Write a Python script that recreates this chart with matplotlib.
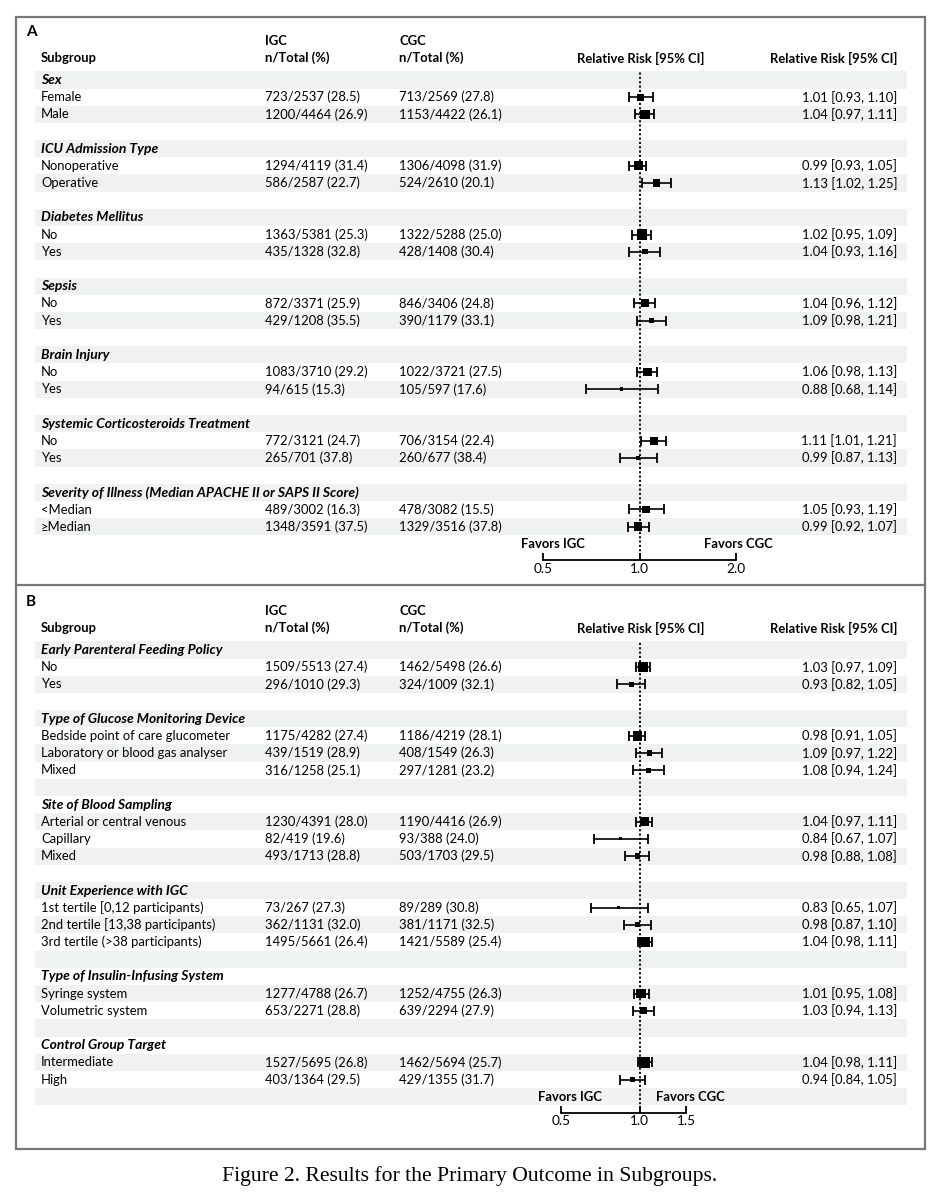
#!/usr/bin/env python3
"""
Forest plot: relative risk of the primary outcome in subgroups (panels A and B)
"""

import numpy as np
import matplotlib
matplotlib.use("Agg")
import matplotlib.pyplot as plt
from matplotlib.patches import Rectangle

# ---- Panel A data ----
a_groups = ["Sex", "ICU Admission Type", "Diabetes Mellitus", "Sepsis", "Brain Injury",
            "Systemic Corticosteroids Treatment",
            "Severity of Illness (Median APACHE II or SAPS II Score)"]
a_group_sizes = [2, 2, 2, 2, 2, 2, 2]
a_items = ["Female", "Male", "Nonoperative", "Operative", "No", "Yes", "No", "Yes",
           "No", "Yes", "No", "Yes", "<Median", "\u2265Median"]
a_igc = ["723/2537 (28.5)", "1200/4464 (26.9)", "1294/4119 (31.4)", "586/2587 (22.7)",
         "1363/5381 (25.3)", "435/1328 (32.8)", "872/3371 (25.9)", "429/1208 (35.5)",
         "1083/3710 (29.2)", "94/615 (15.3)", "772/3121 (24.7)", "265/701 (37.8)",
         "489/3002 (16.3)", "1348/3591 (37.5)"]
a_cgc = ["713/2569 (27.8)", "1153/4422 (26.1)", "1306/4098 (31.9)", "524/2610 (20.1)",
         "1322/5288 (25.0)", "428/1408 (30.4)", "846/3406 (24.8)", "390/1179 (33.1)",
         "1022/3721 (27.5)", "105/597 (17.6)", "706/3154 (22.4)", "260/677 (38.4)",
         "478/3082 (15.5)", "1329/3516 (37.8)"]
a_rr = [1.01, 1.04, 0.99, 1.13, 1.02, 1.04, 1.04, 1.09, 1.06, 0.88, 1.11, 0.99, 1.05, 0.99]
a_lo = [0.93, 0.97, 0.93, 1.02, 0.95, 0.93, 0.96, 0.98, 0.98, 0.68, 1.01, 0.87, 0.93, 0.92]
a_hi = [1.10, 1.11, 1.05, 1.25, 1.09, 1.16, 1.12, 1.21, 1.13, 1.14, 1.21, 1.13, 1.19, 1.07]
a_ticks = [0.5, 1.0, 2.0]
a_tick_labels = ["0.5", "1.0", "2.0"]

# ---- Panel B data ----
b_groups = ["Early Parenteral Feeding Policy", "Type of Glucose Monitoring Device",
            "Site of Blood Sampling", "Unit Experience with IGC",
            "Type of Insulin-Infusing System", "Control Group Target"]
b_group_sizes = [2, 3, 3, 3, 2, 2]
b_items = ["No", "Yes",
           "Bedside point of care glucometer", "Laboratory or blood gas analyser", "Mixed",
           "Arterial or central venous", "Capillary", "Mixed",
           "1st tertile [0,12 participants)", "2nd tertile [13,38 participants)",
           "3rd tertile (>38 participants)",
           "Syringe system", "Volumetric system",
           "Intermediate", "High"]
b_igc = ["1509/5513 (27.4)", "296/1010 (29.3)",
         "1175/4282 (27.4)", "439/1519 (28.9)", "316/1258 (25.1)",
         "1230/4391 (28.0)", "82/419 (19.6)", "493/1713 (28.8)",
         "73/267 (27.3)", "362/1131 (32.0)", "1495/5661 (26.4)",
         "1277/4788 (26.7)", "653/2271 (28.8)",
         "1527/5695 (26.8)", "403/1364 (29.5)"]
b_cgc = ["1462/5498 (26.6)", "324/1009 (32.1)",
         "1186/4219 (28.1)", "408/1549 (26.3)", "297/1281 (23.2)",
         "1190/4416 (26.9)", "93/388 (24.0)", "503/1703 (29.5)",
         "89/289 (30.8)", "381/1171 (32.5)", "1421/5589 (25.4)",
         "1252/4755 (26.3)", "639/2294 (27.9)",
         "1462/5694 (25.7)", "429/1355 (31.7)"]
b_rr = [1.03, 0.93, 0.98, 1.09, 1.08, 1.04, 0.84, 0.98, 0.83, 0.98, 1.04, 1.01, 1.03, 1.04, 0.94]
b_lo = [0.97, 0.82, 0.91, 0.97, 0.94, 0.97, 0.67, 0.88, 0.65, 0.87, 0.98, 0.95, 0.94, 0.98, 0.84]
b_hi = [1.09, 1.05, 1.05, 1.22, 1.24, 1.11, 1.07, 1.08, 1.07, 1.10, 1.11, 1.08, 1.13, 1.11, 1.05]
b_ticks = [0.5, 1.0, 1.5]
b_tick_labels = ["0.5", "1.0", "1.5"]

FONT = "Lato"
FS = 9.4
FS_GROUP = 10.0
ROW_H = 17.18
SHADE = "#f0f1f1"

plt.rcParams["font.family"] = [FONT, "DejaVu Sans"]

fig = plt.figure(figsize=(9.42, 12), dpi=100)
bg = fig.add_axes([0, 0, 1, 1])
bg.set_xlim(0, 942)
bg.set_ylim(1200, 0)
bg.axis("off")


def total_of(s):
    return int(s.split("/")[1].split(" ")[0])


def draw_panel(letter, top, groups, sizes, items, igc, cgc, rr, lo, hi,
               ticks, tick_labels, x_left, x_right, favors_pos):
    """Draw one panel. top = y of the panel letter (pixels)."""
    head2 = top + 26
    head1 = head2 - 17
    row0 = head2 + 22

    bg.text(26, top, letter, fontsize=11, fontweight="bold", va="center")
    bg.text(41, head2, "Subgroup", fontsize=FS, fontweight="bold", va="center")
    for x, name in [(265, "IGC"), (399, "CGC")]:
        bg.text(x, head1, name, fontsize=FS, fontweight="bold", va="center")
        bg.text(x, head2, "n/Total (%)", fontsize=FS, fontweight="bold", va="center")
    bg.text(641, head2, "Relative Risk [95% CI]", fontsize=FS, fontweight="bold",
            va="center", ha="center")
    bg.text(897, head2, "Relative Risk [95% CI]", fontsize=FS, fontweight="bold",
            va="center", ha="right")

    # row layout
    ys = []
    r = 0
    group_rows = []
    for g, n in zip(groups, sizes):
        group_rows.append((r, g))
        r += 1
        for _ in range(n):
            ys.append(row0 + r * ROW_H)
            r += 1
        r += 1  # blank row
    favors_row = r - 1
    n_rows = favors_row + 1

    for i in range(n_rows):
        if i % 2 == 0:
            bg.add_patch(Rectangle((35, row0 + i * ROW_H - ROW_H / 2), 872, ROW_H,
                                   facecolor=SHADE, edgecolor="none", zorder=0))

    for gr, g in group_rows:
        bg.text(41, row0 + gr * ROW_H, g, fontsize=FS_GROUP, fontweight="bold",
                fontstyle="italic", va="center")
    for y, it, a, c, m, l, h in zip(ys, items, igc, cgc, rr, lo, hi):
        bg.text(41, y, it, fontsize=FS, va="center")
        bg.text(265, y, a, fontsize=FS, va="center")
        bg.text(399, y, c, fontsize=FS, va="center")
        bg.text(897, y, f"{m:.2f} [{l:.2f}, {h:.2f}]", fontsize=FS, va="center", ha="right")

    fy = row0 + favors_row * ROW_H
    bg.text(favors_pos[0], fy, "Favors IGC", fontsize=FS, fontweight="bold",
            va="center", ha="center")
    bg.text(favors_pos[1], fy, "Favors CGC", fontsize=FS, fontweight="bold",
            va="center", ha="center")

    # forest axes, y in figure pixels
    axis_y = fy + 16
    line_top = row0 - ROW_H / 2
    ax = fig.add_axes([x_left / 942, 1 - axis_y / 1200,
                       (x_right - x_left) / 942, (axis_y - line_top) / 1200])
    ax.patch.set_alpha(0)
    ax.set_xscale("log")
    ax.set_xlim(ticks[0], ticks[-1])
    ax.set_ylim(axis_y, line_top)
    for s in ["top", "left", "right"]:
        ax.spines[s].set_visible(False)
    ax.spines["bottom"].set_linewidth(1.3)
    ax.set_yticks([])
    ax.set_xticks(ticks)
    ax.set_xticklabels(tick_labels, fontsize=9.8)
    ax.xaxis.set_minor_locator(matplotlib.ticker.NullLocator())
    ax.tick_params(axis="x", direction="in", length=5, width=1.3, pad=2)

    ax.axvline(1.0, color="black", linestyle=(0, (1.2, 1.2)), linewidth=1.3, zorder=1)

    rr = np.array(rr)
    lo = np.array(lo)
    hi = np.array(hi)
    ys = np.array(ys)
    ax.errorbar(rr, ys, xerr=[rr - lo, hi - rr], fmt="none", ecolor="black",
                elinewidth=1.2, capsize=3.3, capthick=1.3, zorder=3, clip_on=False)
    totals = np.array([total_of(a) + total_of(c) for a, c in zip(igc, cgc)])
    side_px = np.clip(0.1 * np.sqrt(totals), 3.0, None)
    side_pt = side_px * 0.72
    ax.scatter(rr, ys, marker="s", s=side_pt ** 2, color="black", zorder=4,
               linewidths=0, clip_on=False)
    return ax


draw_panel("A", 32, a_groups, a_group_sizes, a_items, a_igc, a_cgc, a_rr, a_lo, a_hi,
           a_ticks, a_tick_labels, 543, 736, (553, 738))
draw_panel("B", 602, b_groups, b_group_sizes, b_items, b_igc, b_cgc, b_rr, b_lo, b_hi,
           b_ticks, b_tick_labels, 561, 686, (570, 690))

# frame
bg.add_patch(Rectangle((16, 17), 909, 1132, facecolor="none", edgecolor="#777777",
                       linewidth=1.6, zorder=5))
bg.plot([16, 925], [585, 585], color="#777777", linewidth=1.6, zorder=5)

bg.text(470, 1176, "Figure 2. Results for the Primary Outcome in Subgroups.",
        fontsize=15.6, family="Liberation Serif", ha="center", va="center")

fig.savefig("out.png", dpi=100)
